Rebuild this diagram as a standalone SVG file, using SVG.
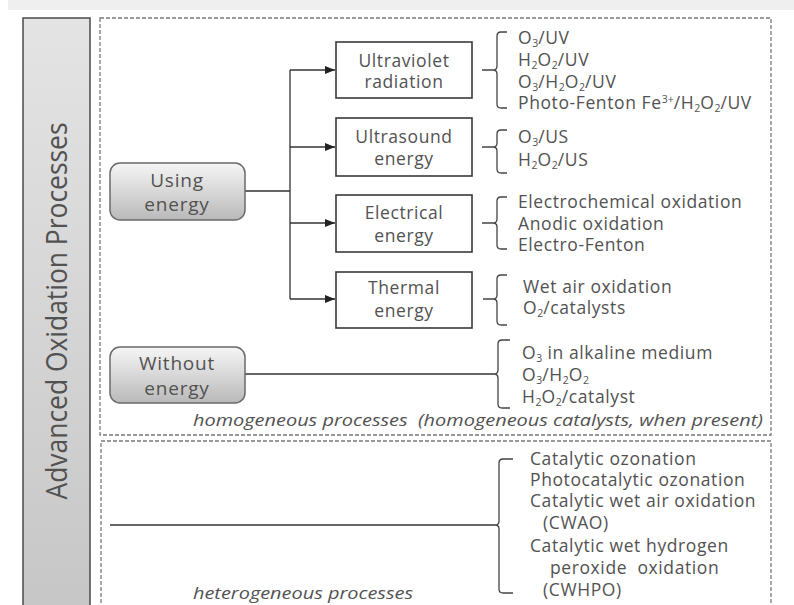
<svg xmlns="http://www.w3.org/2000/svg" width="794" height="605" viewBox="0 0 794 605">
<defs>
<linearGradient id="gBar" x1="0" y1="0" x2="0" y2="1">
<stop offset="0" stop-color="#e4e4e4"/>
<stop offset="1" stop-color="#c6c6c6"/>
</linearGradient>
<linearGradient id="gBox" x1="0" y1="0" x2="0" y2="1">
<stop offset="0" stop-color="#f6f6f6"/>
<stop offset="1" stop-color="#b9b9b9"/>
</linearGradient>
<marker id="arr" markerUnits="userSpaceOnUse" markerWidth="10" markerHeight="10" refX="10" refY="5" orient="auto">
<path d="M0,1 L10,5 L0,9 z" fill="#222"/>
</marker>
</defs>
<style>
text{font-family:"Open Sans","Noto Sans","Liberation Sans",sans-serif;fill:#525252}
.lbl{font-size:17.5px;text-anchor:middle;letter-spacing:0.6px}
.big{font-size:19px;text-anchor:middle;letter-spacing:0.8px}
.lst{font-size:17.5px;letter-spacing:0.6px}
.it{font-size:17px;font-style:italic;white-space:pre}
.sub{font-size:10.5px;letter-spacing:0}
.box{fill:#fff;stroke:#3a3a3a;stroke-width:1.6}
.rbox{fill:url(#gBox);stroke:#6a6a6a;stroke-width:1.5}
.dash{fill:none;stroke:#7a7a7a;stroke-width:1.3;stroke-dasharray:4 2}
.con{fill:none;stroke:#333;stroke-width:1.3}
.br{fill:none;stroke:#444;stroke-width:1.3}
</style>
<rect x="0" y="0" width="794" height="605" fill="#fff"/>
<rect x="8" y="0" width="786" height="10" fill="#efefef"/>

<g id="title">
<rect x="23" y="18" width="67" height="600" fill="url(#gBar)" stroke="#4a4a4a" stroke-width="1.5"/>
<text transform="translate(67,311) rotate(-90)" x="0" y="0" text-anchor="middle" font-size="30" textLength="377" lengthAdjust="spacingAndGlyphs">Advanced Oxidation Processes</text>
</g>

<g id="homogeneous-frame">
<rect class="dash" x="100" y="18" width="671" height="417"/>
<text class="it" x="193" y="426" textLength="570" lengthAdjust="spacingAndGlyphs">homogeneous processes  (homogeneous catalysts, when present)</text>
</g>
<g id="heterogeneous-frame">
<rect class="dash" x="101" y="441" width="670" height="200"/>
<text class="it" x="193" y="599" textLength="220" lengthAdjust="spacingAndGlyphs">heterogeneous processes</text>
</g>

<g id="connectors">
<path class="con" d="M245,191 H290 M290,70 V299"/>
<path class="con" d="M290,70 H335" marker-end="url(#arr)"/>
<path class="con" d="M290,147 H335" marker-end="url(#arr)"/>
<path class="con" d="M290,223 H335" marker-end="url(#arr)"/>
<path class="con" d="M290,299 H335" marker-end="url(#arr)"/>
<path class="con" d="M245,374 H494"/>
<path class="con" d="M110,525 H495"/>
<path class="br" d="M507,32 H501 Q497,32 497,36 V66 Q497,70 493,70 H482 M493,70 Q497,70 497,74 V104 Q497,108 501,108 H507"/>
<path class="br" d="M507,130 H501 Q497,130 497,134 V143 Q497,147 493,147 H482 M493,147 Q497,147 497,151 V169 Q497,173 501,173 H507"/>
<path class="br" d="M507,197 H501 Q497,197 497,201 V219 Q497,223 493,223 H482 M493,223 Q497,223 497,227 V245 Q497,249 501,249 H507"/>
<path class="br" d="M507,275 H501 Q497,275 497,279 V295 Q497,299 493,299 H483 M493,299 Q497,299 497,303 V321 Q497,325 501,325 H507"/>
<path class="br" d="M510,340 H502 Q498,340 498,344 V370 Q498,374 494,374 M494,374 Q498,374 498,378 V404 Q498,408 502,408 H510"/>
<path class="br" d="M513,459 H503 Q499,459 499,463 V521 Q499,525 495,525 M495,525 Q499,525 499,529 V589 Q499,593 503,593 H513"/>
</g>

<g id="using-energy">
<rect class="rbox" x="110" y="163" width="135" height="57" rx="10"/>
<text class="big" x="177" y="187">Using</text>
<text class="big" x="177" y="211">energy</text>
</g>
<g id="without-energy">
<rect class="rbox" x="110" y="347" width="135" height="56" rx="10"/>
<text class="big" x="177" y="370">Without</text>
<text class="big" x="177" y="395">energy</text>
</g>

<g id="ultraviolet">
<rect class="box" x="336" y="42" width="136" height="56"/>
<text class="lbl" x="404" y="67">Ultraviolet</text>
<text class="lbl" x="404" y="88">radiation</text>
</g>
<g id="ultrasound">
<rect class="box" x="336" y="118" width="136" height="58"/>
<text class="lbl" x="404" y="143">Ultrasound</text>
<text class="lbl" x="404" y="165">energy</text>
</g>
<g id="electrical">
<rect class="box" x="336" y="195" width="136" height="57"/>
<text class="lbl" x="404" y="219">Electrical</text>
<text class="lbl" x="404" y="242">energy</text>
</g>
<g id="thermal">
<rect class="box" x="336" y="272" width="136" height="56"/>
<text class="lbl" x="404" y="294">Thermal</text>
<text class="lbl" x="404" y="317">energy</text>
</g>

<g id="uv-list">
<text class="lst" x="518" y="44">O<tspan class="sub" dy="2.5">3</tspan><tspan dy="-2.5">/UV</tspan></text>
<text class="lst" x="518" y="66">H<tspan class="sub" dy="2.5">2</tspan><tspan dy="-2.5">O</tspan><tspan class="sub" dy="2.5">2</tspan><tspan dy="-2.5">/UV</tspan></text>
<text class="lst" x="518" y="88">O<tspan class="sub" dy="2.5">3</tspan><tspan dy="-2.5">/H</tspan><tspan class="sub" dy="2.5">2</tspan><tspan dy="-2.5">O</tspan><tspan class="sub" dy="2.5">2</tspan><tspan dy="-2.5">/UV</tspan></text>
<text class="lst" x="518" y="109">Photo-Fenton Fe<tspan class="sub" dy="-6">3+</tspan><tspan dy="6">/H</tspan><tspan class="sub" dy="2.5">2</tspan><tspan dy="-2.5">O</tspan><tspan class="sub" dy="2.5">2</tspan><tspan dy="-2.5">/UV</tspan></text>
</g>
<g id="us-list">
<text class="lst" x="518" y="143">O<tspan class="sub" dy="2.5">3</tspan><tspan dy="-2.5">/US</tspan></text>
<text class="lst" x="518" y="166">H<tspan class="sub" dy="2.5">2</tspan><tspan dy="-2.5">O</tspan><tspan class="sub" dy="2.5">2</tspan><tspan dy="-2.5">/US</tspan></text>
</g>
<g id="elec-list">
<text class="lst" x="518" y="208">Electrochemical oxidation</text>
<text class="lst" x="518" y="230">Anodic oxidation</text>
<text class="lst" x="518" y="251">Electro-Fenton</text>
</g>
<g id="thermal-list">
<text class="lst" x="523" y="293">Wet air oxidation</text>
<text class="lst" x="523" y="314">O<tspan class="sub" dy="2.5">2</tspan><tspan dy="-2.5">/catalysts</tspan></text>
</g>
<g id="without-list">
<text class="lst" x="522" y="359">O<tspan class="sub" dy="2.5">3</tspan><tspan dy="-2.5"> in alkaline medium</tspan></text>
<text class="lst" x="522" y="381">O<tspan class="sub" dy="2.5">3</tspan><tspan dy="-2.5">/H</tspan><tspan class="sub" dy="2.5">2</tspan><tspan dy="-2.5">O</tspan><tspan class="sub" dy="2.5">2</tspan></text>
<text class="lst" x="522" y="403">H<tspan class="sub" dy="2.5">2</tspan><tspan dy="-2.5">O</tspan><tspan class="sub" dy="2.5">2</tspan><tspan dy="-2.5">/catalyst</tspan></text>
</g>
<g id="het-list">
<text class="lst" x="530" y="465">Catalytic ozonation</text>
<text class="lst" x="530" y="486">Photocatalytic ozonation</text>
<text class="lst" x="530" y="507">Catalytic wet air oxidation</text>
<text class="lst" x="543" y="529">(CWAO)</text>
<text class="lst" x="530" y="552">Catalytic wet hydrogen</text>
<text class="lst" x="550" y="574" style="white-space:pre">peroxide  oxidation</text>
<text class="lst" x="543" y="596">(CWHPO)</text>
</g>
</svg>
